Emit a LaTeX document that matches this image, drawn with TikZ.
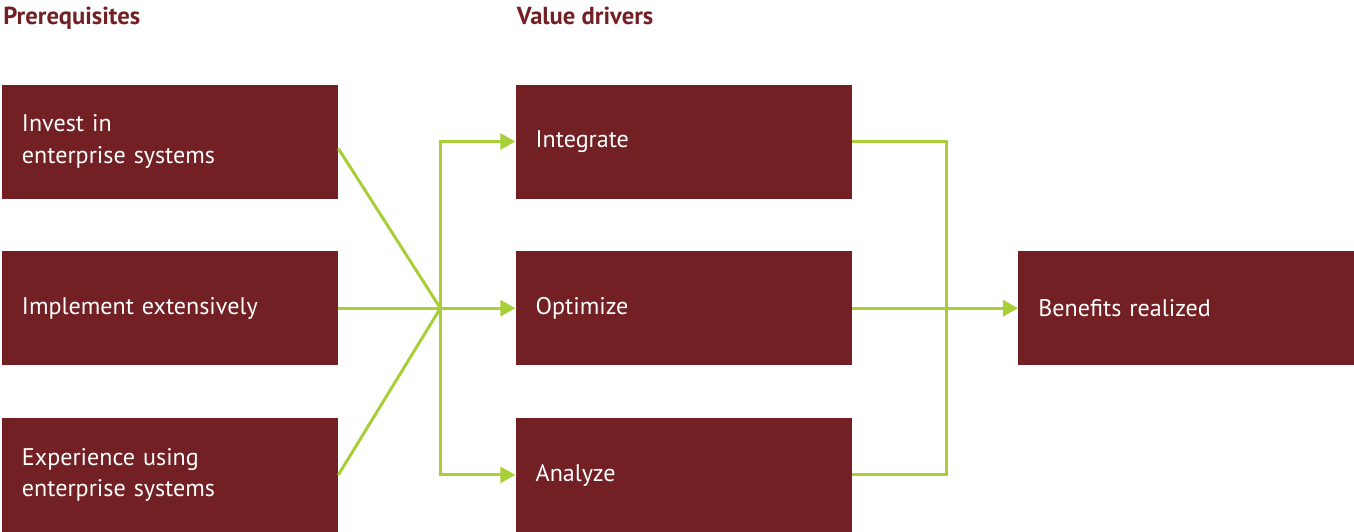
\documentclass[tikz,border=0pt]{standalone}
\usepackage{fontspec}
\setmainfont{PT Sans}
\usepackage{tikz}
\usetikzlibrary{arrows.meta,positioning,calc}
\definecolor{vdred}{RGB}{115,32,37}
\definecolor{vdlime}{RGB}{168,206,56}
\tikzset{
  vdbox/.style={
    fill=vdred, draw=none, text=white, align=left,
    minimum width=6.72cm, minimum height=2.28cm,
    text width=5.92cm, inner xsep=0.40cm, inner ysep=0pt,
    font=\fontsize{13.7}{17.8}\selectfont
  },
  head/.style={anchor=base west, inner sep=0pt, text=vdred,
    font=\fontsize{14}{16}\selectfont\bfseries},
  link/.style={draw=vdlime, line width=1.7pt},
  arr/.style={link, -{Triangle[length=3mm,width=3.2mm]}}
}
\begin{document}
\begin{tikzpicture}[node distance=1.04cm and 3.54cm]
  \useasboundingbox (0,0) rectangle (27.08,-10.62);
  % prerequisites
  \node[vdbox] (pre1) at (3.40,-2.83) {Invest in\\enterprise systems};
  \node[vdbox, below=of pre1] (pre2) {Implement extensively};
  \node[vdbox, below=of pre2] (pre3) {Experience using\\enterprise systems};
  % value drivers
  \node[vdbox, right=of pre1, minimum width=6.70cm] (drv1) {Integrate};
  \node[vdbox, below=of drv1, minimum width=6.70cm] (drv2) {Optimize};
  \node[vdbox, below=of drv2, minimum width=6.70cm] (drv3) {Analyze};
  % outcome
  \node[vdbox, right=3.32cm of drv2] (ben) {Benefits realized};
  \node[head] (hpre) at (0.06,-0.48) {Prerequisites};
  \node[head] (hdrv) at (10.33,-0.48) {Value drivers};
  % fan in, then split to the drivers
  \coordinate[right=2.04cm of pre2.east] (fork);
  \draw[link] ($(pre1.east)+(0,-0.14)$) -- (fork);
  \draw[link] (pre2.east) -- (fork);
  \draw[link] (pre3.east) -- (fork);
  \draw[arr] (fork) |- (drv1.west);
  \draw[arr] (fork) -- (drv2.west);
  \draw[arr] (fork) |- (drv3.west);
  % drivers merge into the benefit
  \coordinate[right=1.88cm of drv2.east] (merge);
  \draw[link] (drv1.east) -| (merge);
  \draw[link] (drv3.east) -| (merge);
  \draw[arr] (drv2.east) -- (ben.west);
\end{tikzpicture}
\end{document}
